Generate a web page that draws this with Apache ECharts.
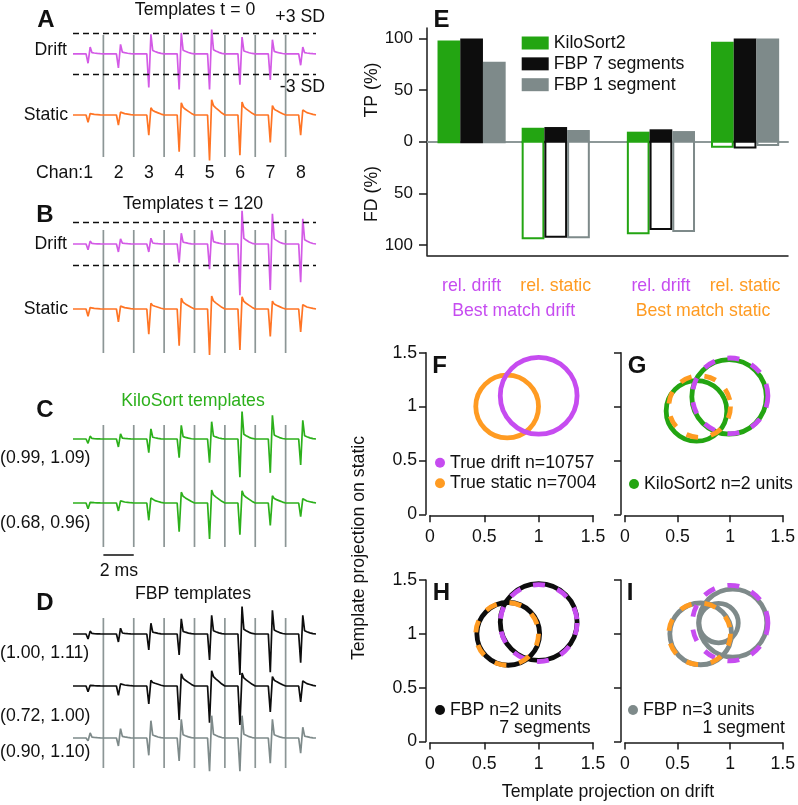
<!DOCTYPE html>
<html><head><meta charset="utf-8">
<script src="https://cdn.jsdelivr.net/npm/echarts@6/dist/echarts.min.js"></script>
<style>html,body{margin:0;padding:0;background:#fff}#c{width:798px;height:805px}</style>
</head><body><div id="c"></div><script>
// ================= DATA =================
const channels = ['1','2','3','4','5','6','7','8'];
const chanMs = 2;                       // each channel window is 2 ms
const chanBounds = [2, 4, 6, 8, 10, 12, 14];
const scaleBarMs = [2, 4];              // "2 ms" scale bar
// spike template shapes inside one channel window (time in ms)
const shapeT        = [0, 0.86, 0.99, 1.13, 1.25, 1.40, 1.60, 1.80, 2.0];
const shapeTrough   = [0, 0,    1,    0,    0,    0,    0,    0,    0];
const shapePeakSlow = [0, 0,    0,    1,    0.62, 0.47, 0.30, 0.13, 0];
const shapePeakFast = [0, 0,    0,    1,    0.17, 0.12, 0.06, 0.02, 0];
// per-channel trough / peak amplitudes (SD units)
const driftT0Trough   = [1.4, 2.1, 5.0, 5.3, 5.3, 4.6, 3.9, 1.7];
const driftT0Peak     = [1.0, 1.4, 2.9, 3.1, 3.6, 2.5, 2.1, 1.0];
const staticT0Trough  = [1.0, 1.4, 2.8, 5.1, 6.3, 5.6, 3.8, 2.8];
const staticT0Peak    = [0.2, 0.4, 1.0, 1.7, 2.1, 1.8, 1.3, 0.7];
const driftT120Trough = [0.8, 1.1, 1.1, 2.6, 3.5, 7.1, 6.4, 5.3];
const driftT120Peak   = [0.4, 0.7, 0.8, 1.5, 1.9, 4.6, 4.2, 3.5];
const staticT120Trough= [1.0, 1.8, 3.5, 5.1, 6.4, 5.7, 3.8, 3.2];
const staticT120Peak  = [0.2, 0.4, 0.8, 1.5, 1.8, 1.7, 1.1, 0.6];
const ks1Trough = [0.6, 1.1, 1.9, 2.6, 3.3, 5.3, 4.7, 3.6];
const ks1Peak   = [0.4, 0.7, 1.4, 1.9, 2.4, 3.8, 3.3, 2.6];
const ks2Trough = [0.8, 1.1, 2.4, 4.0, 5.0, 4.4, 3.1, 1.9];
const ks2Peak   = [0.1, 0.3, 0.7, 1.5, 1.8, 1.7, 1.0, 0.6];
const fbp1Trough = [0.7, 1.1, 2.2, 2.9, 3.6, 5.7, 5.3, 4.0];
const fbp1Peak   = [0.4, 0.8, 1.5, 2.1, 2.6, 3.8, 3.3, 2.6];
const fbp2Trough = [0.8, 1.3, 2.5, 4.7, 5.1, 5.4, 3.6, 2.2];
const fbp2Peak   = [0.1, 0.3, 0.8, 1.7, 2.1, 1.8, 1.3, 0.7];
const fbp3Trough = [0.4, 1.1, 2.4, 3.2, 4.6, 4.6, 3.5, 2.1];
const fbp3Peak   = [0.7, 1.3, 2.4, 2.6, 3.1, 3.1, 2.6, 1.5];
const sdLevels = [3, -3];
const ksLabels  = ['(0.99, 1.09)', '(0.68, 0.96)'];
const fbpLabels = ['(1.00, 1.11)', '(0.72, 1.00)', '(0.90, 1.10)'];

// panel E
const groups = ['rel. drift', 'rel. static', 'rel. drift', 'rel. static'];
const matchGroups = ['Best match drift', 'Best match static'];
const algos = ['KiloSort2', 'FBP 7 segments', 'FBP 1 segment'];
const tpKS  = [98, 13.5, 9.7, 96.8];
const tpF7  = [100, 14.2, 12, 100];
const tpF1  = [77.4, 11.3, 10.3, 100];
const fdKS  = [0, 93.5, 88.7, 4.8];
const fdF7  = [0, 92, 84.5, 5.5];
const fdF1  = [0, 92.5, 86.5, 3.2];
const eTicks = [-100, -50, 0, 50, 100];

// panels F-I : [projection on drift, projection on static, radius]
const trueDrift  = [1.00, 1.10, 0.355];
const trueStatic = [0.71, 1.00, 0.29];
const ksUnits    = [[0.99, 1.09, 0.35], [0.68, 0.96, 0.285]];
const fbp7Units  = [[1.00, 1.11, 0.355], [0.72, 1.00, 0.29]];
const fbp1Units  = [[0.72, 1.00, 0.29], [1.025, 1.10, 0.32], [0.89, 1.10, 0.185]];

// ================= STYLE / LAYOUT =================
const FONT = '"Liberation Sans", Arial, Helvetica, sans-serif';
const FS = 17.7;
const C = {
  magTrace:'#d35ae6', orgTrace:'#ff7424', mag:'#c64cf0', org:'#ff9b22',
  green:'#23a512', greenTrace:'#2cb01b', black:'#0d0d0d', gray:'#7e8a8a',
  sep:'#8c9696', axis:'#1a1a1a', text:'#111111'
};
const TR_LEFT = 73, TR_W = 243, SD_PX = 7.2, Y_HALF = 8;
const traceDefs = [
  {tr: driftT0Trough,   pk: driftT0Peak,   shape: shapePeakFast, base: 50,  color: C.magTrace, sd: true},
  {tr: staticT0Trough,  pk: staticT0Peak,  shape: shapePeakSlow, base: 115, color: C.orgTrace},
  {tr: driftT120Trough, pk: driftT120Peak, shape: shapePeakFast, base: 244, color: C.magTrace, sd: true},
  {tr: staticT120Trough,pk: staticT120Peak,shape: shapePeakSlow, base: 309, color: C.orgTrace},
  {tr: ks1Trough,  pk: ks1Peak,  shape: shapePeakFast, base: 439, color: C.greenTrace},
  {tr: ks2Trough,  pk: ks2Peak,  shape: shapePeakSlow, base: 503, color: C.greenTrace},
  {tr: fbp1Trough, pk: fbp1Peak, shape: shapePeakFast, base: 634, color: C.black},
  {tr: fbp2Trough, pk: fbp2Peak, shape: shapePeakSlow, base: 686, color: C.black},
  {tr: fbp3Trough, pk: fbp3Peak, shape: shapePeakFast, base: 738, color: C.gray}
];
const sepSpans = [[35,157],[230,353],[425,547],[618,768]];

function buildTrace(troughs, peaks, peakShape) {
  const pts = [];
  troughs.forEach((T, ch) => {
    const t0 = ch * chanMs;
    shapeT.forEach((t, k) => {
      if (ch > 0 && k === 0) return;
      pts.push([t0 + t, -T * shapeTrough[k] + peaks[ch] * peakShape[k]]);
    });
  });
  return pts;
}

const grid = [], xAxis = [], yAxis = [], series = [];
function addGrid(g, xa, ya) {
  grid.push(g);
  const gi = grid.length - 1;
  xAxis.push(Object.assign({gridIndex: gi}, xa));
  yAxis.push(Object.assign({gridIndex: gi}, ya));
  return {gi, xi: xAxis.length - 1, yi: yAxis.length - 1};
}
const hiddenX = {type:'value', min:0, max:16, show:false};
const ok = (api) => api && typeof api.coord === 'function';

// separators (drawn first, below traces)
sepSpans.forEach(([t, b]) => {
  const g = addGrid({left:TR_LEFT, width:TR_W, top:t, height:b-t}, hiddenX, {type:'value', min:0, max:1, show:false});
  series.push({type:'custom', xAxisIndex:g.xi, yAxisIndex:g.yi, z:1, silent:true,
    data: chanBounds.map(v => [v]),
    renderItem: (p, api) => {
      if (!ok(api)) return null;
      const a = api.coord([api.value(0), 0]), b2 = api.coord([api.value(0), 1]);
      return {type:'line', shape:{x1:a[0], y1:a[1], x2:b2[0], y2:b2[1]}, style:{stroke:C.sep, lineWidth:1.7}};
    }});
});
// scale bar
{
  const g = addGrid({left:TR_LEFT, width:TR_W, top:550, height:10}, hiddenX, {type:'value', min:0, max:1, show:false});
  series.push({type:'custom', xAxisIndex:g.xi, yAxisIndex:g.yi, silent:true, data:[scaleBarMs],
    renderItem: (p, api) => {
      if (!ok(api)) return null;
      const a = api.coord([api.value(0), 0.5]), b2 = api.coord([api.value(1), 0.5]);
      return {type:'line', shape:{x1:a[0], y1:a[1], x2:b2[0], y2:b2[1]}, style:{stroke:C.black, lineWidth:1.5}};
    }});
}
// traces
traceDefs.forEach(d => {
  const g = addGrid({left:TR_LEFT, width:TR_W, top:d.base - Y_HALF*SD_PX, height:2*Y_HALF*SD_PX},
    hiddenX, {type:'value', min:-Y_HALF, max:Y_HALF, show:false});
  const s = {type:'line', xAxisIndex:g.xi, yAxisIndex:g.yi, z:3, data: buildTrace(d.tr, d.pk, d.shape),
    showSymbol:false, symbol:'none', clip:false, silent:true,
    lineStyle:{color:d.color, width:1.7}};
  if (d.sd) s.markLine = {silent:true, symbol:'none', label:{show:false}, animation:false,
    lineStyle:{type:[6,4], color:C.black, width:1.3}, data: sdLevels.map(v => ({yAxis:v}))};
  series.push(s);
});

// ---- panel E ----
const E_ZERO = 141.7, E_SCALE = 1.033;
const groupPos = [1, 2, 3.25, 4.25];
const eG = addGrid({left:427, width:361, top:E_ZERO - 110*E_SCALE, height:220*E_SCALE},
  {type:'value', min:0.47, max:4.76, position:'bottom',
   axisLine:{onZero:false, lineStyle:{color:C.axis, width:1.5}}, axisTick:{show:false}, splitLine:{show:false},
   axisLabel:{customValues:groupPos, margin:22,
     formatter: (v) => { const i = groupPos.indexOf(v); return '{' + (i%2 ? 's' : 'd') + '|' + groups[i] + '}'; },
     rich:{d:{color:C.mag, fontSize:FS, fontFamily:FONT}, s:{color:C.org, fontSize:FS, fontFamily:FONT}}}},
  {type:'value', min:-110, max:110,
   axisLine:{onZero:false, lineStyle:{color:C.axis, width:1.5}}, splitLine:{show:false},
   axisTick:{customValues:eTicks, length:8, lineStyle:{color:C.axis, width:1.5}},
   axisLabel:{customValues:eTicks, formatter:(v)=>String(Math.abs(v)), margin:14, fontSize:17, fontFamily:FONT, color:C.text}});
// zero line
xAxis.push({gridIndex:eG.gi, type:'value', min:0.47, max:4.76, position:'top',
  axisLine:{onZero:true, lineStyle:{color:'#8d9898', width:2}}, axisTick:{show:false}, axisLabel:{show:false}, splitLine:{show:false}});
// second label row
xAxis.push({gridIndex:eG.gi, type:'value', min:0.47, max:4.76, position:'bottom',
  axisLine:{show:false, onZero:false}, axisTick:{show:false}, splitLine:{show:false},
  axisLabel:{customValues:[(groupPos[0]+groupPos[1])/2, (groupPos[2]+groupPos[3])/2], margin:47,
    formatter:(v)=> v < 2.5 ? '{d|' + matchGroups[0] + '}' : '{s|' + matchGroups[1] + '}',
    rich:{d:{color:C.mag, fontSize:FS, fontFamily:FONT}, s:{color:C.org, fontSize:FS, fontFamily:FONT}}}});
const BAR_W = 0.27;
const algoData = [[tpKS, fdKS, C.green], [tpF7, fdF7, C.black], [tpF1, fdF1, C.gray]];
algoData.forEach(([tp, fd, color], k) => {
  const off = (k - 1) * BAR_W;
  series.push({type:'custom', name: algos[k], xAxisIndex:eG.xi, yAxisIndex:eG.yi, z:3, silent:true,
    itemStyle:{color},
    data: groupPos.map((p, i) => [p, tp[i], fd[i]]),
    renderItem: (params, api) => {
      if (!ok(api)) return null;
      const x = api.value(0) + off;
      const a = api.coord([x - BAR_W/2, api.value(1)]);
      const b2 = api.coord([x + BAR_W/2, 0]);
      const c = api.coord([x + BAR_W/2, -api.value(2)]);
      const ch = [{type:'rect', shape:{x:a[0], y:a[1], width:b2[0]-a[0], height:b2[1]-a[1]+1.5}, style:{fill:color}}];
      if (api.value(2) > 0) ch.push({type:'rect', shape:{x:a[0]+1, y:b2[1], width:b2[0]-a[0]-2, height:c[1]-b2[1]},
        style:{fill:'#ffffff', stroke:color, lineWidth:2}});
      return {type:'group', children:ch};
    }});
});

// ---- panels F-I ----
function projGrid(left, top, showY) {
  return addGrid({left, width:163, top, height:161.6},
    {type:'value', min:0, max:1.5, interval:0.5, offset:1,
     axisLine:{onZero:false, lineStyle:{color:C.axis, width:1.5}},
     axisTick:{length:7, lineStyle:{color:C.axis, width:1.5}}, splitLine:{show:false},
     axisLabel:{margin:13, fontSize:FS, fontFamily:FONT, color:C.text}},
    {type:'value', min:0, max:1.5, interval:0.5, offset:4,
     axisLine:{onZero:false, lineStyle:{color:C.axis, width:1.5}},
     axisTick:{length:7, lineStyle:{color:C.axis, width:1.5}}, splitLine:{show:false},
     axisLabel:{show:showY, margin:9, fontSize:FS, fontFamily:FONT, color:C.text}});
}
function circles(g, data, color, dash, name) {
  return {type:'custom', name, xAxisIndex:g.xi, yAxisIndex:g.yi, z: dash ? 4 : 3, silent:true,
    itemStyle:{color}, data,
    renderItem: function (params, api) {
      if (!ok(api)) return null;
      const c = api.coord([api.value(0), api.value(1)]);
      const s = api.size([api.value(2), api.value(2)]);
      const st = {fill:null, stroke:color, lineWidth:4.8};
      if (dash) st.lineDash = dash;
      return {type:'circle', shape:{cx:c[0], cy:c[1], r:(s[0]+s[1])/2}, style:st};
    }};
}
const gF = projGrid(430, 352.7, true);
const gG = projGrid(625, 352.7, false);
const gH = projGrid(430, 580, true);
const gI = projGrid(625, 580, false);
const DASH = [12, 13];
series.push(circles(gF, [trueStatic], C.org, null, 'True static n=7004'));
series.push(circles(gF, [trueDrift], C.mag, null, 'True drift n=10757'));
series.push(circles(gG, ksUnits, C.green, null, 'KiloSort2 n=2 units'));
series.push(circles(gG, [trueDrift], C.mag, DASH, 'g-drift'));
series.push(circles(gG, [trueStatic], C.org, DASH, 'g-static'));
series.push(circles(gH, fbp7Units, C.black, null, 'FBP n=2 units'));
series.push(circles(gH, [trueDrift], C.mag, DASH, 'h-drift'));
series.push(circles(gH, [trueStatic], C.org, DASH, 'h-static'));
series.push(circles(gI, fbp1Units, C.gray, null, 'FBP n=3 units'));
series.push(circles(gI, [trueDrift], C.mag, DASH, 'i-drift'));
series.push(circles(gI, [trueStatic], C.org, DASH, 'i-static'));

const legendBase = {orient:'vertical', padding:0, selectedMode:false, icon:'circle', itemWidth:10, itemHeight:10,
  textStyle:{fontSize:FS, fontFamily:FONT, color:C.text, lineHeight:18}};
const legend = [
  Object.assign({}, legendBase, {data:algos, left:521.7, top:34, icon:'rect', itemWidth:27, itemHeight:13, itemGap:2.85}),
  Object.assign({}, legendBase, {data:['True drift n=10757','True static n=7004'], left:435, top:453.7, itemGap:2.6}),
  Object.assign({}, legendBase, {data:['KiloSort2 n=2 units'], left:629, top:475}),
  Object.assign({}, legendBase, {data:['FBP n=2 units'], left:435, top:701}),
  Object.assign({}, legendBase, {data:['FBP n=3 units'], left:628, top:701})
];

// ---- texts ----
function T(text, x, y, o) {
  o = o || {};
  const al = o.align || 'center';
  return {type:'text', x, y, rotation:o.rot || 0, silent:true, z:10,
    style:{text, font:(o.bold ? 'bold ' : '') + (o.size || FS) + 'px ' + FONT, fill:o.color || C.text,
      align:al, verticalAlign:'middle', textAlign:al, textVerticalAlign:'middle'}};
}
const segPx = TR_W / channels.length;
const texts = [
  T('A', 46, 20, {bold:true, size:24}), T('Templates t = 0', 195, 10),
  T('+3 SD', 325, 17, {align:'right'}), T('-3 SD', 325, 87, {align:'right'}),
  T('Drift', 67, 50, {align:'right'}), T('Static', 68, 115, {align:'right'}),
  T('Chan:', TR_LEFT + segPx*0.5 - 5, 173, {align:'right'}),
  T('B', 45, 215, {bold:true, size:24}), T('Templates t = 120', 193, 204),
  T('Drift', 67, 244, {align:'right'}), T('Static', 68, 309, {align:'right'}),
  T('C', 45, 410, {bold:true, size:24}), T('KiloSort templates', 193, 401, {color:C.greenTrace}),
  T(ksLabels[0], 0, 458, {align:'left'}), T(ksLabels[1], 0, 523, {align:'left'}),
  T('2 ms', 119, 571.5),
  T('D', 45, 603, {bold:true, size:24}), T('FBP templates', 193, 594.3),
  T(fbpLabels[0], 0, 653.3, {align:'left'}), T(fbpLabels[1], 0, 716, {align:'left'}), T(fbpLabels[2], 0, 751.7, {align:'left'}),
  T('E', 441.5, 20, {bold:true, size:24}),
  T('TP (%)', 372.5, 90, {rot:Math.PI/2}), T('FD (%)', 372.5, 194, {rot:Math.PI/2}),
  T('F', 439.5, 366.5, {bold:true, size:24}), T('G', 637, 366.5, {bold:true, size:24}),
  T('H', 441.5, 593.5, {bold:true, size:24}), T('I', 630, 593.5, {bold:true, size:24}),
  T('7 segments', 590.7, 728.3, {align:'right'}), T('1 segment', 785, 728.3, {align:'right'}),
  T('Template projection on static', 359, 548, {rot:Math.PI/2}),
  T('Template projection on drift', 608, 791.7)
];
channels.forEach((c, k) => texts.push(T(c, TR_LEFT + segPx*(k + 0.5), 173)));

const chart = echarts.init(document.getElementById('c'), null, {renderer:'canvas'});
chart.setOption({
  animation:false, backgroundColor:'#ffffff',
  textStyle:{fontFamily:FONT},
  grid, xAxis, yAxis, series, legend,
  graphic:{elements:texts}
});
</script></body></html>
